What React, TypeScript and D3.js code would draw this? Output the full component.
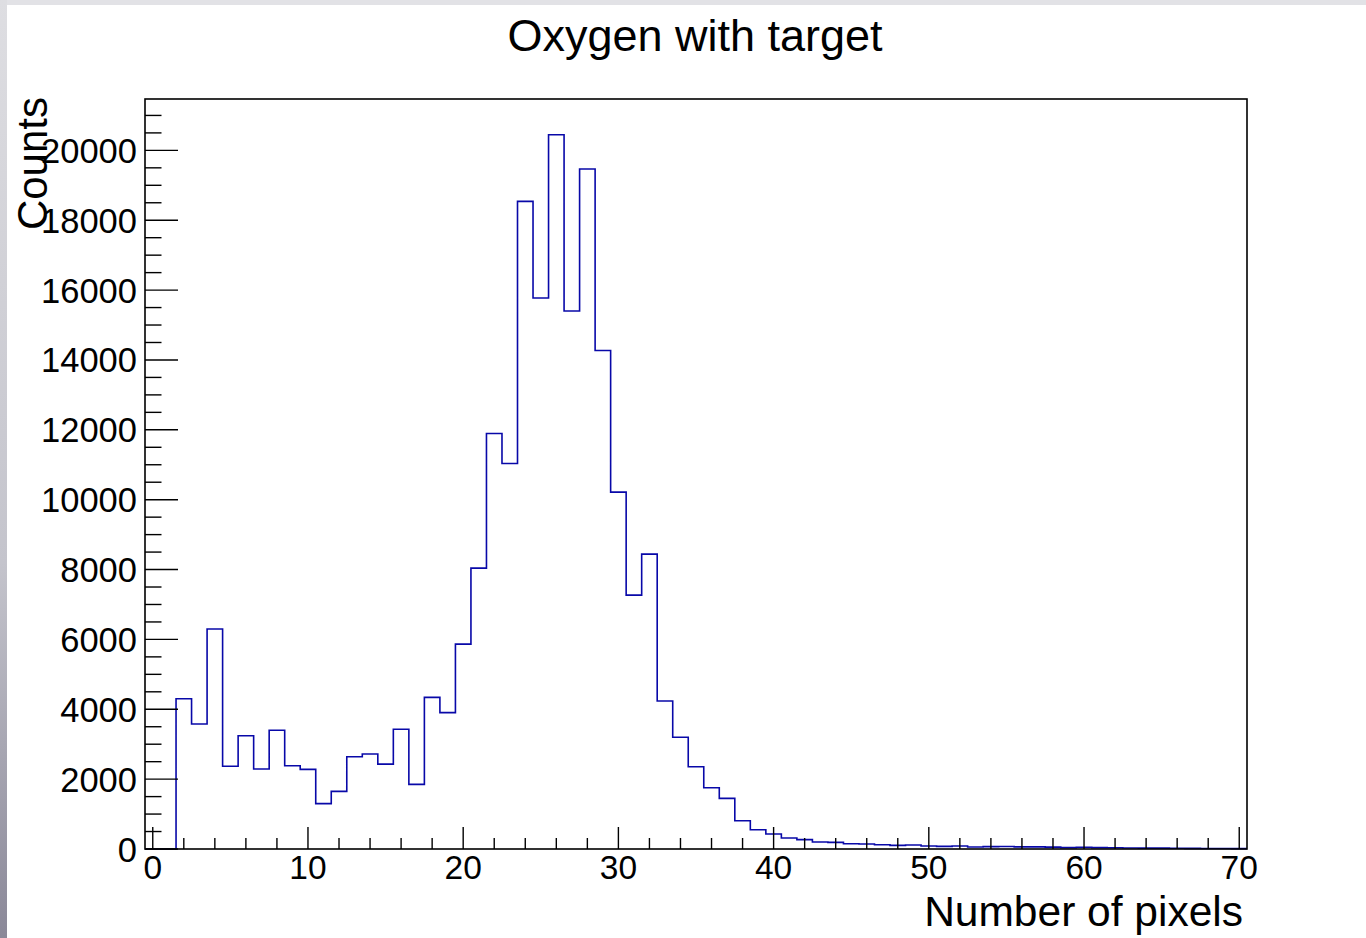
import React, { useRef, useEffect } from 'react'
import * as d3 from 'd3'

// bin centres 0..70, width 1
const binCenters: number[] = d3.range(0, 71)
const counts: number[] = [
  0, 0, 4300, 3580, 6300, 2370, 3240, 2290, 3400, 2385,
  2280, 1300, 1650, 2640, 2720, 2430, 3430, 1850, 4340, 3905,
  5866, 8040, 11894, 11035, 18540, 15775, 20448, 15400, 19466, 14270,
  10215, 7268, 8441, 4235, 3200, 2355, 1754, 1450, 810, 550,
  430, 315, 267, 200, 190, 152, 145, 123, 105, 115,
  86, 76, 86, 57, 67, 72, 60, 60, 55, 40,
  50, 40, 35, 30, 25, 25, 20, 18, 15, 15,
  12
]
const xMajorTicks: number[] = [0, 10, 20, 30, 40, 50, 60, 70]
const yMajorTicks: number[] = [0, 2000, 4000, 6000, 8000, 10000, 12000, 14000, 16000, 18000, 20000]

const title = 'Oxygen with target'
const xTitle = 'Number of pixels'
const yTitle = 'Counts'

const W = 1366
const H = 938
const font = '"Liberation Sans", Arial, Helvetica, sans-serif'

const HistChart: React.FC = () => {
  const svgRef = useRef<SVGSVGElement>(null)

  useEffect(() => {
    if (!svgRef.current) return
    const svg = d3.select(svgRef.current)
    svg.selectAll('*').remove()

    const left = 145, right = 1247, top = 99, bottom = 849
    const yMax = d3.max(counts)! * 1.05

    const x = d3.scaleLinear().domain([-0.5, 70.5]).range([left, right])
    const y = d3.scaleLinear().domain([0, yMax]).range([bottom, top])

    // window chrome
    const defs = svg.append('defs')
    const grad = defs.append('linearGradient')
      .attr('id', 'sidebar').attr('x1', 0).attr('y1', 0).attr('x2', 0).attr('y2', 1)
    grad.append('stop').attr('offset', '0%').attr('stop-color', '#dedee2')
    grad.append('stop').attr('offset', '60%').attr('stop-color', '#c4c4cc')
    grad.append('stop').attr('offset', '100%').attr('stop-color', '#8a8898')

    svg.append('rect').attr('width', W).attr('height', H).attr('fill', '#ffffff')
    svg.append('rect').attr('width', W).attr('height', 5).attr('fill', '#e2e2e6')
    svg.append('rect').attr('width', 7).attr('height', H).attr('fill', 'url(#sidebar)')

    // histogram outline
    const pts: [number, number][] = binCenters.map((c, i) => [c - 0.5, counts[i]])
    pts.push([70.5, counts[counts.length - 1]])
    const line = d3.line<[number, number]>()
      .x(d => x(d[0]))
      .y(d => y(d[1]))
      .curve(d3.curveStepAfter)

    svg.append('path')
      .attr('d', line(pts))
      .attr('fill', 'none')
      .attr('stroke', '#0808a8')
      .attr('stroke-width', 1.6)

    // frame
    svg.append('rect')
      .attr('x', left).attr('y', top)
      .attr('width', right - left).attr('height', bottom - top)
      .attr('fill', 'none')
      .attr('stroke', '#000')
      .attr('stroke-width', 1.6)

    // y ticks
    const yMinor = d3.range(0, yMax, 500)
    svg.append('g').selectAll('line')
      .data(yMinor)
      .enter()
      .append('line')
      .attr('x1', left)
      .attr('x2', d => left + (d % 2000 === 0 ? 33 : 16.5))
      .attr('y1', d => y(d)).attr('y2', d => y(d))
      .attr('stroke', '#000')
      .attr('stroke-width', 1.4)

    svg.append('g').selectAll('text')
      .data(yMajorTicks)
      .enter()
      .append('text')
      .attr('x', 137)
      .attr('y', d => y(d) + 12.5)
      .attr('text-anchor', 'end')
      .style('font-family', font)
      .style('font-size', '34.5px')
      .text(d => String(d))

    // x ticks
    const xMinor = d3.range(0, 71, 2)
    svg.append('g').selectAll('line')
      .data(d3.sort(Array.from(new Set([...xMinor, ...xMajorTicks]))))
      .enter()
      .append('line')
      .attr('x1', d => x(d)).attr('x2', d => x(d))
      .attr('y1', bottom)
      .attr('y2', d => bottom - (d % 10 === 0 ? 22 : 11))
      .attr('stroke', '#000')
      .attr('stroke-width', 1.4)

    svg.append('g').selectAll('text')
      .data(xMajorTicks)
      .enter()
      .append('text')
      .attr('x', d => x(d))
      .attr('y', 879)
      .attr('text-anchor', 'middle')
      .style('font-family', font)
      .style('font-size', '33.5px')
      .text(d => String(d))

    // titles
    svg.append('text')
      .attr('x', 695).attr('y', 51)
      .attr('text-anchor', 'middle')
      .style('font-family', font)
      .style('font-size', '45px')
      .text(title)

    svg.append('text')
      .attr('x', 1243).attr('y', 926)
      .attr('text-anchor', 'end')
      .style('font-family', font)
      .style('font-size', '42.5px')
      .text(xTitle)

    svg.append('text')
      .attr('transform', `translate(47, 97) rotate(-90)`)
      .attr('text-anchor', 'end')
      .style('font-family', font)
      .style('font-size', '42px')
      .text(yTitle)
  }, [])

  return <svg ref={svgRef} width={W} height={H} style={{ position: 'absolute', left: 0, top: 0 }} />
}

export default function App() {
  return <HistChart />
}
